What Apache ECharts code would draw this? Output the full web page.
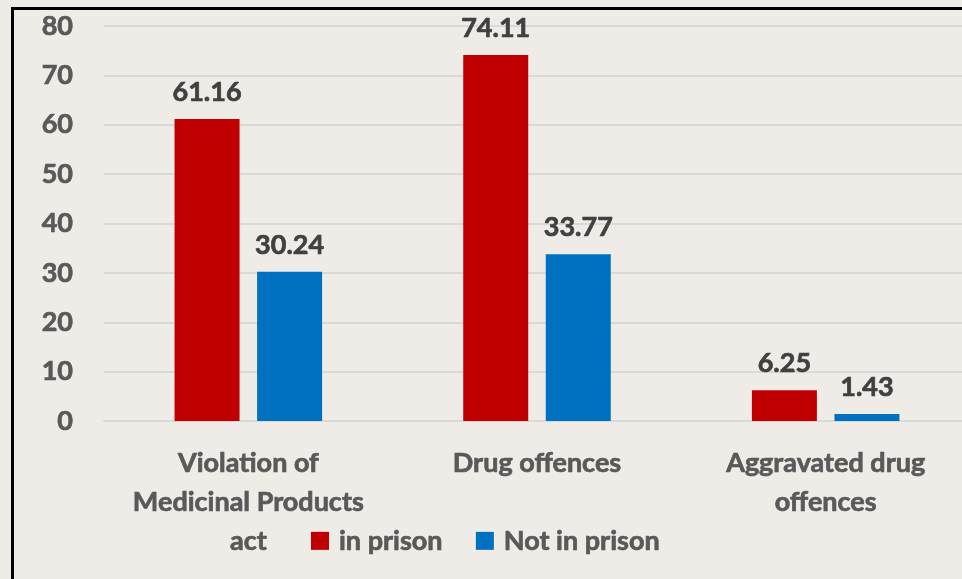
<!DOCTYPE html>
<html>
<head>
<meta charset="utf-8">
<script src="https://cdn.jsdelivr.net/npm/echarts@6/dist/echarts.min.js"></script>
<style>
  html, body { margin: 0; padding: 0; background: #EFECE8; }
  #chart { width: 962px; height: 579px; }
</style>
</head>
<body>
<div id="chart"></div>
<script>
// Offence categories and shares per group
const categories = ['Violation of\nMedicinal Products\nact', 'Drug offences', 'Aggravated drug\noffences'];
const inPrison = [61.16, 74.11, 6.25];
const notInPrison = [30.24, 33.77, 1.43];
const yTicks = { min: 0, max: 80, interval: 10 };

const textColor = '#595959';
const valueColor = '#404040';
const fontFamily = 'Lato, "Open Sans", sans-serif';
const fontWeight = 'bold';
const fontSize = 27;
// a thin outline in the text colour gives the labels a heavier weight
const heavy = { textBorderColor: textColor, textBorderWidth: 0.7 };

const valueLabel = {
  show: true, position: 'top', distance: 13,
  fontFamily: fontFamily, fontWeight: fontWeight, fontSize: fontSize,
  color: valueColor, textBorderColor: valueColor, textBorderWidth: 0.7,
  formatter: p => p.value.toFixed(2)
};

const chart = echarts.init(document.getElementById('chart'));
chart.setOption({
  backgroundColor: '#EFECE8',
  textStyle: { fontFamily: fontFamily, fontWeight: fontWeight, color: textColor },
  graphic: [{
    type: 'rect',
    left: 10, top: 6,
    shape: { width: 1000, height: 1000 },
    style: { fill: 'none', stroke: '#000', lineWidth: 3 },
    silent: true
  }],
  grid: { left: 104, width: 866, top: 26, bottom: 158, containLabel: false, outerBoundsMode: 'none' },
  legend: {
    left: 306, top: 522,
    icon: 'rect', itemWidth: 18, itemHeight: 18, itemGap: 33,
    textStyle: Object.assign({ fontFamily: fontFamily, fontWeight: fontWeight, fontSize: fontSize, color: textColor, padding: [0, 0, 0, 5] }, heavy),
    data: ['in prison', 'Not in prison']
  },
  xAxis: {
    type: 'category',
    data: categories,
    axisLine: { lineStyle: { color: '#D9D9D9', width: 2 } },
    axisTick: { show: false },
    axisLabel: Object.assign({
      interval: 0, margin: 23,
      fontFamily: fontFamily, fontWeight: fontWeight, fontSize: fontSize, color: textColor, lineHeight: 39
    }, heavy)
  },
  yAxis: {
    type: 'value',
    min: yTicks.min, max: yTicks.max, interval: yTicks.interval,
    axisLine: { show: false },
    axisTick: { show: false },
    splitLine: { lineStyle: { color: '#D9D9D9', width: 2 } },
    axisLabel: Object.assign({ margin: 31, fontFamily: fontFamily, fontWeight: fontWeight, fontSize: fontSize, color: textColor }, heavy)
  },
  series: [
    {
      name: 'in prison', type: 'bar', data: inPrison,
      barWidth: 65, barGap: '27%',
      itemStyle: { color: '#C00000' },
      label: valueLabel
    },
    {
      name: 'Not in prison', type: 'bar', data: notInPrison,
      barWidth: 65,
      itemStyle: { color: '#0070C0' },
      label: valueLabel
    }
  ]
});
</script>
</body>
</html>
